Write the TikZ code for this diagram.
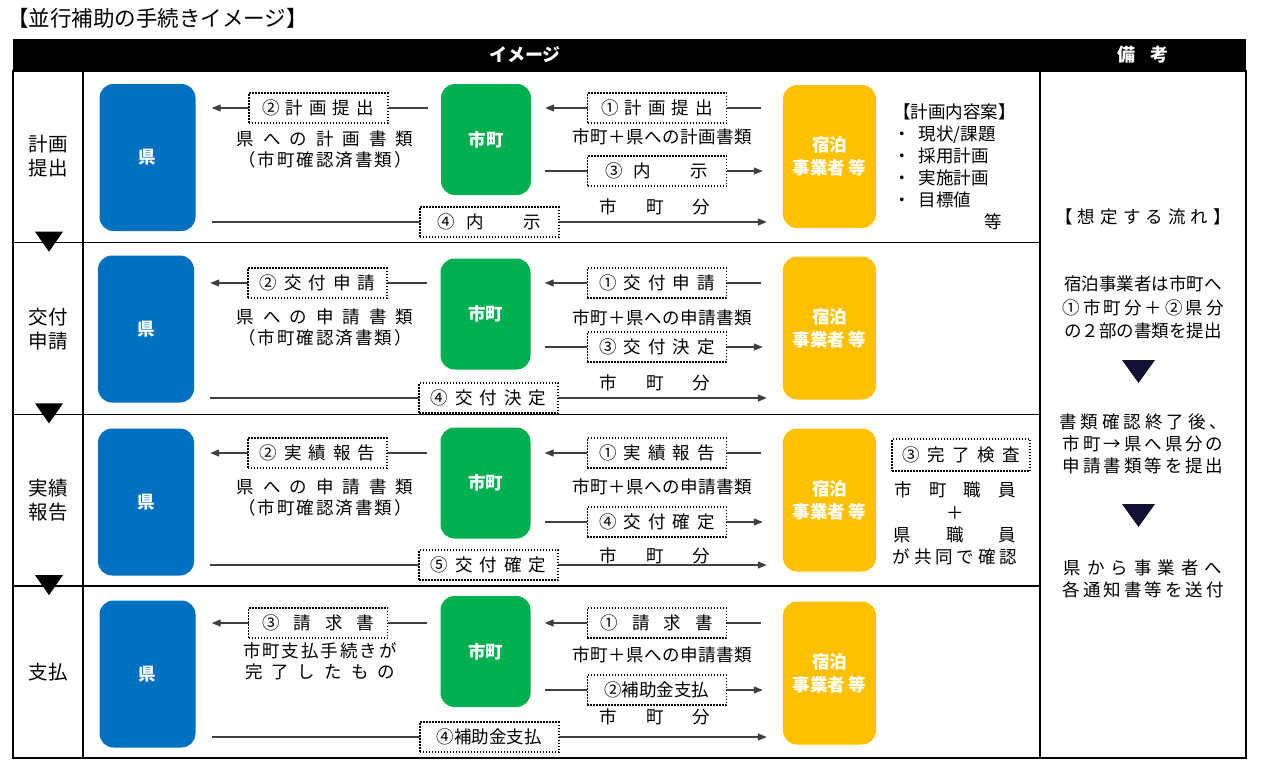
\documentclass[tikz,border=0pt]{standalone}
\usepackage{fontspec}
\setmainfont{Noto Sans CJK JP}
\usetikzlibrary{arrows.meta}
\definecolor{kenblue}{RGB}{0,112,192}
\definecolor{shigreen}{RGB}{0,176,80}
\definecolor{jigorange}{RGB}{255,192,0}
\definecolor{navytri}{RGB}{18,18,52}
\makeatletter
\newcommand{\ls}[2]{\def\ls@gap{#1}\@tfor\ls@c:=#2\do{\ls@c\hspace{\ls@gap}}\unskip}
\makeatother

\tikzset{
	orgbox/.style={rounded corners=14pt, text=white, inner sep=0pt, align=center, font=\bfseries\fontsize{17.5}{23}\selectfont},
	kenbox/.style={orgbox, fill=kenblue, minimum width=96pt, minimum height=147pt},
	shibox/.style={orgbox, fill=shigreen, minimum width=90pt, minimum height=111pt},
	jigbox/.style={orgbox, fill=jigorange, minimum width=93pt, minimum height=143pt},
	tag/.style={draw=black, fill=white, text=black, line width=1.5pt, dash pattern=on 1.5pt off 1.5pt, minimum width=139pt, minimum height=30pt, inner sep=0pt, font=\fontsize{17.5}{21}\selectfont},
	flow/.style={black!75, line width=1.3pt, -{Triangle[length=9pt,width=7pt]}},
	note/.style={inner sep=0pt, align=center, font=\fontsize{17.5}{21}\selectfont},
	stagelabel/.style={inner sep=0pt, align=center, font=\fontsize{19.5}{24}\selectfont},
}

\begin{document}
\begin{tikzpicture}[x=1pt, y=-1pt]
	\useasboundingbox (0,0) rectangle (1261,764);
	%title and header
	\node[anchor=west, inner sep=0pt, font=\fontsize{21.5}{24}\selectfont] (title) at (7,18) {【並行補助の手続きイメージ】};
	\fill[black] (13,39) rectangle (1246,71);
	\node[note, text=white, font=\bfseries\fontsize{18}{21}\selectfont] (imghead) at (525,55) {イメージ};
	\node[note, text=white, font=\bfseries\fontsize{18}{21}\selectfont] (bikohead) at (1143,55) {\ls{16pt}{備考}};
	%table lines
	\draw[line width=1.3pt] (13,71) rectangle (1246,758);
	\draw[line width=1.3pt] (83,71) -- (83,758);
	\draw[line width=1.3pt] (1040,71) -- (1040,758);
	\foreach \y in {242.7,414.4,586.1} {
		\draw[line width=1.3pt] (13,\y) -- (1040,\y);
		\fill[black] (35,\y-11) -- (63,\y-11) -- (49,\y+9) -- cycle;
	}
	\node[stagelabel] (stage1) at (48,156.5) {計画\\提出};
	\node[stagelabel] (stage2) at (48,329) {交付\\申請};
	\node[stagelabel] (stage3) at (48,500) {実績\\報告};
	\node[stagelabel] (stage4) at (48,672) {支払};

	%row 1
	\node[kenbox] (ken1) at (147.5,157.5) {県};
	\node[shibox] (shi1) at (486,139.5) {市町};
	\node[jigbox] (jig1) at (829.5,156.5) {宿泊\\事業者 等};
	\coordinate (a1) at (0,108);
	\coordinate (b1) at (0,171);
	\coordinate (c1) at (0,222);
	\draw[flow, shorten <=13pt, shorten >=16pt] (shi1.west |- a1) -- node[tag] {\ls{6pt}{②計画提出}} (ken1.east |- a1);
	\draw[flow, shorten <=22pt, shorten >=14pt] (jig1.west |- a1) -- node[tag] {\ls{6pt}{①計画提出}} (shi1.east |- a1);
	\draw[flow, shorten <=14pt, shorten >=20pt] (shi1.east |- b1) -- node[tag] {\ls{11pt}{③内　示}} (jig1.west |- b1);
	\draw[flow, shorten <=16pt, shorten >=16pt] (ken1.east |- c1) -- node[tag] {\ls{11pt}{④内　示}} (jig1.west |- c1);
	\node[note] (doc1) at (325,149.5) {\ls{9pt}{県への計画書類}\\\ls{2pt}{（市町確認済書類）}};
	\node[note] (both1) at (662,137) {\ls{0.5pt}{市町＋県への計画書類}};
	\node[note] (own1) at (655,207) {\ls{29pt}{市町分}};
	\node[note, anchor=west, align=left, font=\fontsize{17.5}{22}\selectfont] (plan1) at (893,167) {【計画内容案】\\・\hspace{8pt}現状/課題\\・\hspace{8pt}採用計画\\・\hspace{8pt}実施計画\\・\hspace{8pt}目標値\\\hspace*{91pt}等};

	%row 2
	\node[kenbox] (ken2) at (146,329) {県};
	\node[shibox] (shi2) at (485.5,314) {市町};
	\node[jigbox] (jig2) at (829.5,328) {宿泊\\事業者 等};
	\coordinate (a2) at (0,283);
	\coordinate (b2) at (0,347);
	\coordinate (c2) at (0,398);
	\draw[flow, shorten <=13pt, shorten >=16pt] (shi2.west |- a2) -- node[tag] {\ls{7pt}{②交付申請}} (ken2.east |- a2);
	\draw[flow, shorten <=22pt, shorten >=14pt] (jig2.west |- a2) -- node[tag] {\ls{7pt}{①交付申請}} (shi2.east |- a2);
	\draw[flow, shorten <=14pt, shorten >=20pt] (shi2.east |- b2) -- node[tag] {\ls{7pt}{③交付決定}} (jig2.west |- b2);
	\draw[flow, shorten <=16pt, shorten >=16pt] (ken2.east |- c2) -- node[tag] {\ls{7pt}{④交付決定}} (jig2.west |- c2);
	\node[note] (doc2) at (325,327.5) {\ls{9pt}{県への申請書類}\\\ls{2pt}{（市町確認済書類）}};
	\node[note] (both2) at (662,318) {\ls{0.5pt}{市町＋県への申請書類}};
	\node[note] (own2) at (655,383) {\ls{29pt}{市町分}};

	%row 3
	\node[kenbox] (ken3) at (146,502) {県};
	\node[shibox] (shi3) at (485.5,483) {市町};
	\node[jigbox] (jig3) at (829.5,500) {宿泊\\事業者 等};
	\coordinate (a3) at (0,453);
	\coordinate (b3) at (0,522);
	\coordinate (c3) at (0,565);
	\draw[flow, shorten <=13pt, shorten >=16pt] (shi3.west |- a3) -- node[tag] {\ls{7pt}{②実績報告}} (ken3.east |- a3);
	\draw[flow, shorten <=22pt, shorten >=14pt] (jig3.west |- a3) -- node[tag] {\ls{7pt}{①実績報告}} (shi3.east |- a3);
	\draw[flow, shorten <=14pt, shorten >=20pt] (shi3.east |- b3) -- node[tag] {\ls{7pt}{④交付確定}} (jig3.west |- b3);
	\draw[flow, shorten <=16pt, shorten >=16pt] (ken3.east |- c3) -- node[tag] {\ls{7pt}{⑤交付確定}} (jig3.west |- c3);
	\node[note] (doc3) at (325,497.5) {\ls{9pt}{県への申請書類}\\\ls{2pt}{（市町確認済書類）}};
	\node[note] (both3) at (662,487) {\ls{0.5pt}{市町＋県への申請書類}};
	\node[note] (own3) at (655,556) {\ls{29pt}{市町分}};
	\node[tag, minimum width=138pt, minimum height=32pt] (check3) at (961,455) {\ls{7.4pt}{③完了検査}};
	\node[note, font=\fontsize{17.5}{22.3}\selectfont] (staff3) at (955,523.5) {\ls{17pt}{市町職員}\\＋\\\ls{35pt}{県職員}\\\ls{4pt}{が共同で確認}};

	%row 4
	\node[kenbox] (ken4) at (147.5,674) {県};
	\node[shibox] (shi4) at (485.5,651.5) {市町};
	\node[jigbox] (jig4) at (829.5,673) {宿泊\\事業者 等};
	\coordinate (a4) at (0,623);
	\coordinate (b4) at (0,690);
	\coordinate (c4) at (0,737);
	\draw[flow, shorten <=13pt, shorten >=16pt] (shi4.west |- a4) -- node[tag] {\ls{14pt}{③請求書}} (ken4.east |- a4);
	\draw[flow, shorten <=22pt, shorten >=14pt] (jig4.west |- a4) -- node[tag] {\ls{14pt}{①請求書}} (shi4.east |- a4);
	\draw[flow, shorten <=14pt, shorten >=20pt] (shi4.east |- b4) -- node[tag] {②補助金支払} (jig4.west |- b4);
	\draw[flow, shorten <=16pt, shorten >=16pt] (ken4.east |- c4) -- node[tag] {④補助金支払} (jig4.west |- c4);
	\node[note] (doc4) at (320,661) {\ls{2pt}{市町支払手続きが}\\\ls{9pt}{完了したもの}};
	\node[note] (both4) at (662,655) {\ls{0.5pt}{市町＋県への申請書類}};
	\node[note] (own4) at (655,717) {\ls{29pt}{市町分}};

	%remarks column
	\node[note] (flowhead) at (1143,217) {\ls{5pt}{【想定する流れ】}};
	\node[note, font=\fontsize{17.5}{23.5}\selectfont] (remark1) at (1143,307.5) {宿泊事業者は市町へ\\\ls{3pt}{①市町分＋②県分}\\の２部の書類を提出};
	\fill[navytri] (1122,360) -- (1155,360) -- (1138.5,383) -- cycle;
	\node[note, font=\fontsize{17.5}{22}\selectfont] (remark2) at (1143,444) {\ls{4pt}{書類確認終了後、}\\\ls{3pt}{市町→県へ県分の}\\\ls{3pt}{申請書類等を提出}};
	\fill[navytri] (1122,504) -- (1155,504) -- (1138.5,527) -- cycle;
	\node[note, font=\fontsize{17.5}{22}\selectfont] (remark3) at (1143,579) {\ls{6pt}{県から事業者へ}\\\ls{3pt}{各通知書等を送付}};
\end{tikzpicture}
\end{document}
